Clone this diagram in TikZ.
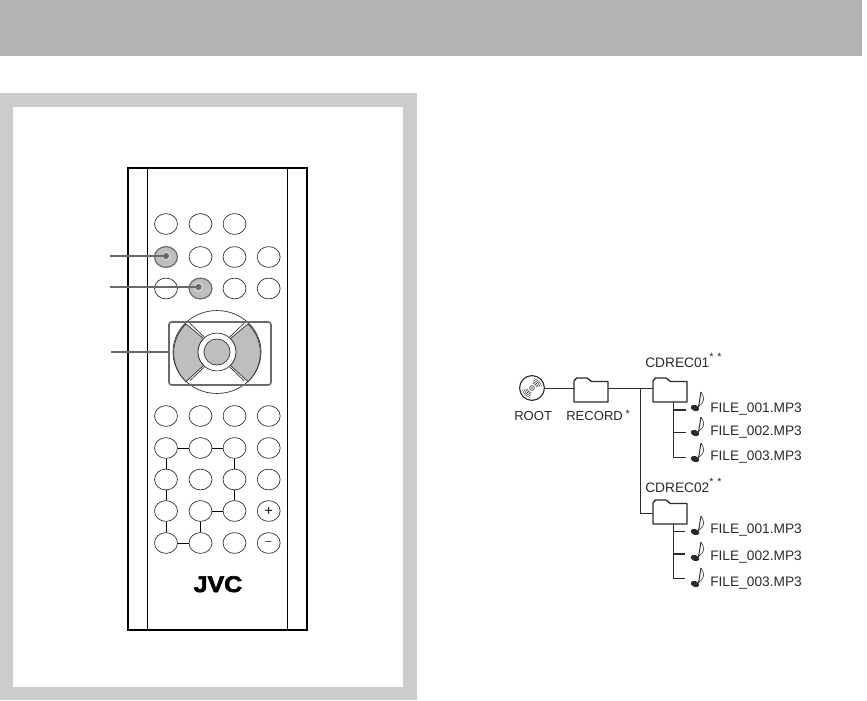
\documentclass[tikz,border=0pt]{standalone}
\usepackage{fontspec}
\setmainfont{Liberation Sans}
\newfontfamily\jvcf[BoldFeatures={FakeBold=2.6}]{Liberation Sans}
\usetikzlibrary{shapes.geometric,calc}
\definecolor{bandgray}{HTML}{B3B3B3}
\definecolor{panelgray}{HTML}{CCCCCC}
\definecolor{keygray}{HTML}{BEBEBE}
\definecolor{leadgray}{HTML}{6A6A6A}
\definecolor{inkdark}{HTML}{2A2A2A}
\newcommand{\starmark}{{\fontsize{8pt}{8pt}\selectfont *}}
\tikzset{
  x=0.75pt,y=-0.75pt,
  btn/.style={ellipse,draw=inkdark,line width=0.5pt,minimum width=17.2pt,minimum height=15.6pt,inner sep=0pt,fill=white},
  hot/.style={btn,fill=keygray,draw=leadgray,line width=0.9pt},
  leader/.style={draw=leadgray,line width=1.05pt},
  link/.style={draw=black,line width=0.7pt},
  tree/.style={draw=inkdark,line width=0.7pt},
  treeb/.style={draw=inkdark,line width=1.2pt},
  label/.style={inner sep=0pt,anchor=base west,text=inkdark,font=\fontsize{10.3pt}{12pt}\selectfont},
  slabel/.style={label,font=\fontsize{9.8pt}{12pt}\selectfont},
  folderglyph/.pic={
    \draw[draw=inkdark,line width=1pt,fill=white,line join=round]
      (0,24)--(0,3)--(2.5,0)--(13,0)--(17.5,3.5)--(34,3.5)--(34,24)--cycle;
  },
  noteglyph/.pic={
    \fill[inkdark,rotate=-20] (0,0) ellipse [x radius=3.3pt,y radius=2.2pt];
    \draw[inkdark,line width=0.7pt] (3.5,-1)--(6,-16);
    \draw[inkdark,line width=0.45pt] (6,-16) .. controls (8,-12) and (12,-8) .. (4,-2);
  }
}
\begin{document}
\begin{tikzpicture}
\useasboundingbox (0,0) rectangle (867,700);
\fill[white] (0,0) rectangle (867,700);
% header and panel
\fill[bandgray] (0,0) rectangle (862,56);
\fill[panelgray] (0,93) rectangle (416.5,700);
\fill[white] (13,107) rectangle (403,686.5);
% remote body
\draw[line width=1.4pt,black] (128,168) rectangle (307,630);
\draw[line width=0.6pt,black] (147,168)--(147,630) (287,168)--(287,630);
% button rows
\node[btn] (a1) at (166,224) {};
\node[btn] (a2) at (200.5,224) {};
\node[btn] (a3) at (234.5,224) {};
\node[hot] (b1) at (166,257) {};
\node[btn] (b2) at (200.5,257) {};
\node[btn] (b3) at (234.5,257) {};
\node[btn] (b4) at (268.7,257) {};
\node[btn] (c1) at (166,288.5) {};
\node[hot] (c2) at (200.5,288.5) {};
\node[btn] (c3) at (234.5,288.5) {};
\node[btn] (c4) at (268.7,288.5) {};
\node[btn] (d1) at (166,416) {};
\node[btn] (d2) at (200.5,416) {};
\node[btn] (d3) at (234.5,416) {};
\node[btn] (d4) at (268.7,416) {};
\node[btn] (e1) at (166,448) {};
\node[btn] (e2) at (200.5,448) {};
\node[btn] (e3) at (234.5,448) {};
\node[btn] (e4) at (268.7,448) {};
\node[btn] (f1) at (166,479.5) {};
\node[btn] (f2) at (200.5,479.5) {};
\node[btn] (f3) at (234.5,479.5) {};
\node[btn] (f4) at (268.7,479.5) {};
\node[btn] (g1) at (166,511) {};
\node[btn] (g2) at (200.5,511) {};
\node[btn] (g3) at (234.5,511) {};
\node[btn] (g4) at (268.7,511) {\fontsize{10.5pt}{10pt}\selectfont +};
\node[btn] (h1) at (166,543) {};
\node[btn] (h2) at (200.5,543) {};
\node[btn] (h3) at (234.5,543) {};
\node[btn] (h4) at (268.7,543) {\fontsize{8pt}{8pt}\selectfont –};
\draw[link] (e1)--(e2) (e2)--(e3) (e1)--(f1) (f1)--(g1) (g1)--(h1) (h1)--(h2)
  (h2)--(g2) (g2)--(g3) (g3)--(f3) (f3)--(e3);
% d-pad
\begin{scope}[shift={(217,352)}]
  \draw[inkdark,line width=0.5pt] (0,0) ellipse [x radius=33pt,y radius=31.1pt];
  \foreach \sx in {-1,1}{
    \foreach \sy in {-1,1}{
      \draw[inkdark,line width=0.5pt] (\sx*27,\sy*28.6)--(\sx*12,\sy*14.3);
    }
  }
  \draw[inkdark,line width=0.5pt,fill=keygray]
    (-31,-28) arc [start angle=136,end angle=224,x radius=33pt,y radius=31.1pt]
    -- (-13.4,13.4) arc [start angle=225,end angle=135,radius=14.2pt] -- cycle;
  \draw[inkdark,line width=0.5pt,fill=keygray]
    (31,-28) arc [start angle=44,end angle=-44,x radius=33pt,y radius=31.1pt]
    -- (13.4,13.4) arc [start angle=-45,end angle=45,radius=14.2pt] -- cycle;
  \draw[inkdark,line width=0.5pt,fill=white] (0,0) circle [radius=14.2pt];
  \draw[inkdark,line width=0.5pt,fill=keygray] (0,0) circle [radius=9.8pt];
\end{scope}
\draw[leadgray,line width=1.2pt,rounded corners=2pt] (169,322) rectangle (271,385);
\coordinate (padleft) at (169,352);
% leaders
\coordinate (l1) at (110,256);
\coordinate (l2) at (110,287);
\coordinate (l3) at (111,352);
\coordinate (t1) at (166,256);
\coordinate (t2) at (198.5,287);
\fill[keygray!60!white] (t1) circle [radius=3.4pt] (t2) circle [radius=3.4pt];
\fill[leadgray] (t1) circle [radius=2.3pt] (t2) circle [radius=2.3pt];
\draw[leader] (l1)--(t1);
\draw[leader] (l2)--(t2);
\draw[leader] (l3)--(padleft);
% logo
\node[inner sep=0pt,anchor=base] (logo) at (218,592) {\scalebox{1.1}[1]{\jvcf\bfseries\fontsize{17pt}{18pt}\selectfont JVC}};
% tree
\coordinate (rootR) at (544.5,388);
\coordinate (recL) at (574,388);
\coordinate (recR) at (608,388);
\coordinate (cd1L) at (653,388);
\coordinate (jn) at (640,388);
\coordinate (cd2L) at (653,513);
\coordinate (jn2) at (640,513);
\draw[tree] (rootR)--(recL);
\draw[tree] (recR)--(cd1L);
\draw[tree] (jn)--(jn2)--(cd2L);
\pic at (574,378) {folderglyph};
\pic at (653,378) {folderglyph};
\pic at (653,500) {folderglyph};
% disc
\node[circle,draw=inkdark,line width=0.85pt,minimum size=18.6pt,inner sep=0pt,fill=white] (root) at (532,388) {};
\draw[inkdark,line width=0.45pt] (532,388) circle [radius=1.8pt];
\draw[inkdark,line width=0.3pt] (532,388) circle [radius=0.5pt];
\foreach \rr in {3.6,4.8,6,7.2}{
  \draw[inkdark,line width=0.35pt] ([shift={(10:\rr pt)}]532,388) arc [start angle=10,end angle=80,radius=\rr pt];
  \draw[inkdark,line width=0.35pt] ([shift={(190:\rr pt)}]532,388) arc [start angle=190,end angle=260,radius=\rr pt];
}
% labels
\node[slabel] (lroot) at (514,420) {ROOT};
\node[slabel] (lrec) at (566,420) {RECORD\hspace{2pt}\raisebox{2.2pt}{\starmark}};
\node[label] (lcd1) at (645,367) {CDREC01\raisebox{5pt}{\starmark\hspace{2.9pt}\starmark}};
\node[label] (lcd2) at (645,492) {CDREC02\raisebox{5pt}{\starmark\hspace{2.9pt}\starmark}};
% files 1
\coordinate (s1) at (673,402);
\coordinate (s1a) at (673,410);
\coordinate (s1b) at (673,432);
\coordinate (s1c) at (673,457);
\coordinate (e1a) at (685.5,410);
\coordinate (e1b) at (685.5,432);
\coordinate (e1c) at (685.5,457);
\draw[tree] (s1)--(s1c)--(e1c);
\draw[treeb] (s1a)--(e1a);
\draw[tree] (s1b)--(e1b);
\pic at (695,408) {noteglyph};
\pic at (695,433) {noteglyph};
\pic at (695,459) {noteglyph};
\node[label] (f11) at (710,412) {FILE\_001.MP3};
\node[label] (f12) at (710,435) {FILE\_002.MP3};
\node[label] (f13) at (710,460) {FILE\_003.MP3};
% files 2
\coordinate (s2) at (673,524);
\coordinate (s2a) at (673,531);
\coordinate (s2b) at (673,554);
\coordinate (s2c) at (673,578);
\coordinate (e2a) at (684.5,531);
\coordinate (e2b) at (684.5,554);
\coordinate (e2c) at (684.5,578);
\draw[tree] (s2)--(s2c)--(e2c);
\draw[tree] (s2a)--(e2a);
\draw[treeb] (s2b)--(e2b);
\pic at (695,532) {noteglyph};
\pic at (695,558) {noteglyph};
\pic at (695,584) {noteglyph};
\node[label] (f21) at (710,533) {FILE\_001.MP3};
\node[label] (f22) at (710,560) {FILE\_002.MP3};
\node[label] (f23) at (710,586) {FILE\_003.MP3};
\end{tikzpicture}
\end{document}
